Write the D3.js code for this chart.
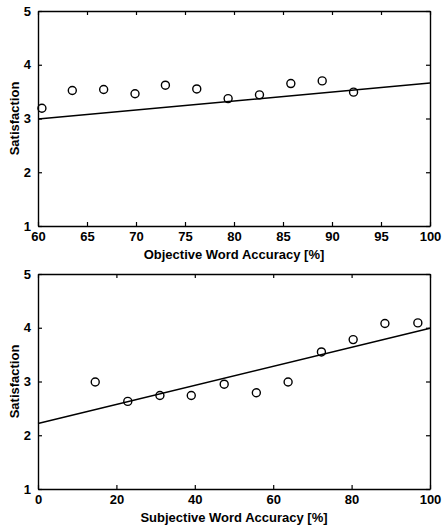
<!DOCTYPE html>
<html><head><meta charset="utf-8">
<script src="https://cdn.jsdelivr.net/npm/d3@7"></script>
<style>body{margin:0;background:#fff}svg{display:block}text{font-family:"Liberation Sans",Arial,sans-serif;font-weight:bold;fill:#000}</style>
</head><body><div id="chart"></div>
<script>
// Top panel: Objective word accuracy
const objAccuracy = [60.4, 63.5, 66.7, 69.9, 73.0, 76.2, 79.4, 82.6, 85.8, 89.0, 92.2];
const objSatisfaction = [3.19, 3.52, 3.54, 3.46, 3.62, 3.55, 3.37, 3.44, 3.65, 3.70, 3.49];
const objFitX = [60, 100];
const objFitY = [2.99, 3.66];
const objXTicks = [60, 65, 70, 75, 80, 85, 90, 95, 100];
// Bottom panel: Subjective word accuracy
const subjAccuracy = [14.6, 22.9, 31.1, 39.1, 47.5, 55.7, 63.8, 72.3, 80.4, 88.5, 96.9];
const subjSatisfaction = [2.99, 2.63, 2.74, 2.74, 2.95, 2.79, 2.99, 3.55, 3.78, 4.08, 4.09];
const subjFitX = [0, 100];
const subjFitY = [2.22, 3.99];
const subjXTicks = [0, 20, 40, 60, 80, 100];
const yTicks = [1, 2, 3, 4, 5];

const W = 442, H = 526;
const svg = d3.select("#chart").append("svg").attr("width", W).attr("height", H);

function panel(top, xDomain, xTicks, xs, ys, fx, fy, title) {
  const left = 38, right = 430, bottom = top + 215;
  const x = d3.scaleLinear().domain(xDomain).range([left, right]);
  const y = d3.scaleLinear().domain([1, 5]).range([bottom, top]);
  const g = svg.append("g");
  const tl = 4;
  // axes with inward ticks on all sides
  const axB = g.append("g").attr("transform", `translate(0,${bottom})`)
    .call(d3.axisBottom(x).tickValues(xTicks).tickSizeInner(-tl).tickSizeOuter(0).tickPadding(8).tickFormat(d3.format("d")));
  const axT = g.append("g").attr("transform", `translate(0,${top})`)
    .call(d3.axisTop(x).tickValues(xTicks).tickSizeInner(-tl).tickSizeOuter(0).tickFormat(""));
  const axL = g.append("g").attr("transform", `translate(${left},0)`)
    .call(d3.axisLeft(y).tickValues(yTicks).tickSizeInner(-tl).tickSizeOuter(0).tickPadding(7).tickFormat(d3.format("d")));
  const axR = g.append("g").attr("transform", `translate(${right},0)`)
    .call(d3.axisRight(y).tickValues(yTicks).tickSizeInner(-tl).tickSizeOuter(0).tickFormat(""));
  [axB, axT, axL, axR].forEach(a => {
    a.select(".domain").attr("stroke", "#000").attr("stroke-width", 1.4);
    a.selectAll(".tick line").attr("stroke", "#000").attr("stroke-width", 1.2);
    a.selectAll("text").style("font-size", "13px").style("font-weight", "bold").attr("fill", "#000");
  });
  axB.selectAll("text").attr("dy", "0.55em");
  // fit line
  const line = d3.line().x(d => x(d[0])).y(d => y(d[1]));
  g.append("path").datum(d3.zip(fx, fy)).attr("d", line)
    .attr("fill", "none").attr("stroke", "#000").attr("stroke-width", 1.5);
  // points
  g.selectAll("circle.pt").data(d3.zip(xs, ys)).join("circle").attr("class", "pt")
    .attr("cx", d => x(d[0])).attr("cy", d => y(d[1])).attr("r", 4)
    .attr("fill", "none").attr("stroke", "#000").attr("stroke-width", 1.4);
  // labels
  g.append("text").attr("x", (left + right) / 2).attr("y", bottom + 33)
    .attr("text-anchor", "middle").style("font-size", "13px").text(title);
  g.append("text").attr("transform", `translate(19,${(top + bottom) / 2}) rotate(-90)`)
    .attr("text-anchor", "middle").style("font-size", "13px").text("Satisfaction");
}

panel(11, [60, 100], objXTicks, objAccuracy, objSatisfaction, objFitX, objFitY, "Objective Word Accuracy [%]");
panel(274, [0, 100], subjXTicks, subjAccuracy, subjSatisfaction, subjFitX, subjFitY, "Subjective Word Accuracy [%]");
</script></body></html>
